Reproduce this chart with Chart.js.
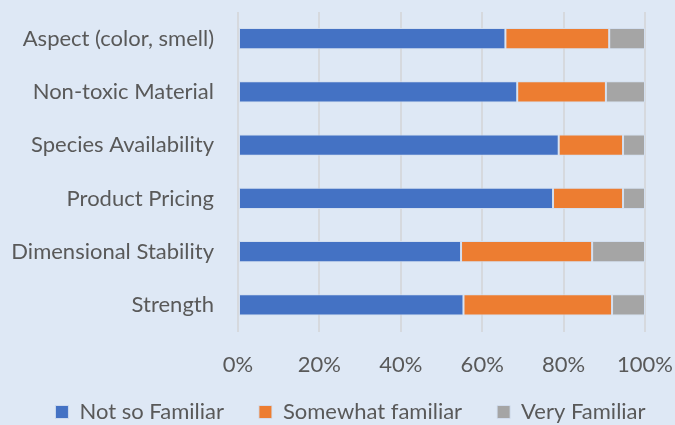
<!DOCTYPE html>
<html>
<head>
<meta charset="utf-8">
<script src="https://cdn.jsdelivr.net/npm/chart.js@4"></script>
<style>
  html, body { margin: 0; padding: 0; background: #dee8f5; }
  #wrap { width: 675px; height: 425px; position: relative; }
</style>
</head>
<body>
<div id="wrap"><canvas id="chart"></canvas></div>
<script>
const categories = [
  "Aspect (color, smell)",
  "Non-toxic Material",
  "Species Availability",
  "Product Pricing",
  "Dimensional Stability",
  "Strength"
];
const notSoFamiliar = [65.7, 68.6, 78.8, 77.4, 54.8, 55.4];
const somewhatFamiliar = [25.5, 21.8, 15.8, 17.2, 32.2, 36.5];
const veryFamiliar = [8.8, 9.6, 5.4, 5.4, 13.0, 8.1];
const tickLabels = ["0%", "20%", "40%", "60%", "80%", "100%"];

const textColor = "#595959";
const font = { family: "Lato, 'Open Sans', sans-serif", size: 22 };

// wide gaps between legend items, but without the tall box that padding would give
const legendTweak = {
  id: "legendTweak",
  beforeInit(chart) {
    const lg = chart.legend;
    const fit = lg.fit;
    const draw = lg.draw;
    lg.fit = function () {
      fit.call(this);
      this.height = 27;
    };
    lg.draw = function () {
      const { top, left, right } = this;
      this.top = top - 32;
      this.left = left + 13;
      this.right = right + 13;
      draw.call(this);
      Object.assign(this, { top, left, right });
    };
  }
};

const ctx = document.getElementById("chart").getContext("2d");
new Chart(ctx, {
  type: "bar",
  data: {
    labels: categories,
    datasets: [
      { label: "Not so Familiar", data: notSoFamiliar, backgroundColor: "#4472c4" },
      { label: "Somewhat familiar", data: somewhatFamiliar, backgroundColor: "#ed7d31" },
      { label: "Very Familiar", data: veryFamiliar, backgroundColor: "#a5a5a5" }
    ].map(d => Object.assign(d, {
      borderColor: "rgba(210,222,240,0.9)",
      borderWidth: 1,
      borderSkipped: false,
      barPercentage: 0.4,
      categoryPercentage: 1
    }))
  },
  options: {
    indexAxis: "y",
    responsive: true,
    maintainAspectRatio: false,
    animation: false,
    layout: { padding: { top: 12, right: 0, left: 0, bottom: 0 } },
    scales: {
      x: {
        stacked: true,
        min: 0,
        max: 100,
        border: { display: false },
        grid: { color: "#d6d9de", lineWidth: 2, drawTicks: false },
        afterFit: s => { s.paddingLeft = 0; s.paddingRight = 30; },
        ticks: {
          stepSize: 20,
          padding: 20,
          color: textColor,
          font: font,
          callback: (v, i) => tickLabels[i]
        }
      },
      y: {
        stacked: true,
        border: { display: false },
        grid: { display: false, drawTicks: false },
        afterFit: s => { s.width = 238; s.paddingTop = 0; s.paddingBottom = 0; },
        ticks: { padding: 24, color: textColor, font: font }
      }
    },
    plugins: {
      tooltip: { enabled: false },
      legend: {
        position: "bottom",
        labels: {
          color: textColor,
          font: font,
          boxWidth: 13,
          boxHeight: 13,
          padding: 35
        }
      }
    }
  },
  plugins: [legendTweak]
});
</script>
</body>
</html>
